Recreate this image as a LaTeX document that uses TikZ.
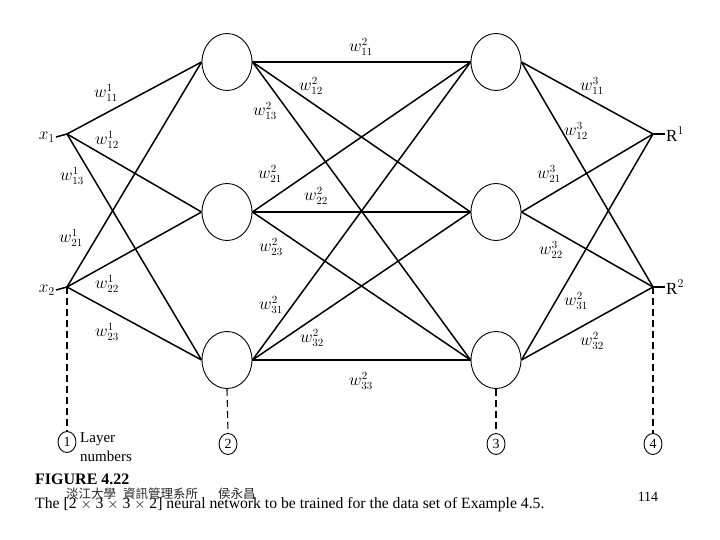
\documentclass[tikz,border=0pt]{standalone}
\usepackage{fontspec}
\setmainfont{Liberation Serif}
\newfontfamily\cjkfont{Noto Sans CJK TC}
\usetikzlibrary{shapes.geometric,positioning}

\begin{document}
\begin{tikzpicture}[
    x=1pt, y=-1pt,
    neuron/.style={draw, ellipse, minimum width=50pt, minimum height=57pt, inner sep=0pt, line width=0.9pt},
    layernum/.style={draw, ellipse, minimum width=18pt, minimum height=21pt, inner sep=0pt, line width=0.9pt, font=\fontsize{14}{14}\selectfont},
    weight/.style={font=\fontsize{16}{16}\selectfont, inner sep=1pt},
    io/.style={font=\fontsize{17}{17}\selectfont, inner sep=1pt},
    link/.style={line width=1.5pt},
    boldlink/.style={line width=2.2pt},
    guide/.style={dashed, dash pattern=on 7pt off 4pt, line width=1.1pt}
]
\useasboundingbox (0,0) rectangle (720,540);

% inputs and outputs
\coordinate (x1) at (67,134);
\coordinate (x2) at (67,287);
\coordinate (r1) at (653,134);
\coordinate (r2) at (653,287);
\node[io, anchor=east] (x1lab) at (56,137) {$x_1$};
\node[io, anchor=east] (x2lab) at (56,290) {$x_2$};
\node[io, anchor=west] (r1lab) at (665,134) {R$^1$};
\node[io, anchor=west] (r2lab) at (665,287) {R$^2$};
\draw[link] (x1lab.east) -- (x1);
\draw[link] (x2lab.east) -- (x2);
\draw[link] (r1) -- (r1lab.west);
\draw[link] (r2) -- (r2lab.west);

% hidden layers
\node[neuron] (h1) at (227,62) {};
\node[neuron] (h2) at (227,212) {};
\node[neuron] (h3) at (227,360) {};
\node[neuron] (g1) at (496,62) {};
\node[neuron] (g2) at (496,212) {};
\node[neuron] (g3) at (496,360) {};

% layer 1 -> 2
\draw[link] (x1) -- (h1.west);
\draw[link] (x1) -- (h2.west);
\draw[link] (x1) -- (h3.west);
\draw[link] (x2) -- (h1.west);
\draw[link] (x2) -- (h2.west);
\draw[link] (x2) -- (h3.west);

% layer 2 -> 3
\draw[boldlink] (h1.east) -- (g1.west);
\draw[link] (h1.east) -- (g2.west);
\draw[link] (h1.east) -- (g3.west);
\draw[link] (h2.east) -- (g1.west);
\draw[boldlink] (h2.east) -- (g2.west);
\draw[link] (h2.east) -- (g3.west);
\draw[link] (h3.east) -- (g1.west);
\draw[link] (h3.east) -- (g2.west);
\draw[boldlink] (h3.east) -- (g3.west);

% layer 3 -> 4
\draw[link] (g1.east) -- (r1);
\draw[link] (g1.east) -- (r2);
\draw[link] (g2.east) -- (r1);
\draw[link] (g2.east) -- (r2);
\draw[link] (g3.east) -- (r1);
\draw[link] (g3.east) -- (r2);

% weights
\node[weight] (w111) at (106,93) {$w^{1}_{11}$};
\node[weight] (w112) at (107,140) {$w^{1}_{12}$};
\node[weight] (w113) at (72,176) {$w^{1}_{13}$};
\node[weight] (w121) at (71,238) {$w^{1}_{21}$};
\node[weight] (w122) at (107,284) {$w^{1}_{22}$};
\node[weight] (w123) at (107,332) {$w^{1}_{23}$};

\node[weight] (w211) at (361,47) {$w^{2}_{11}$};
\node[weight] (w212) at (311,86) {$w^{2}_{12}$};
\node[weight] (w213) at (265,111) {$w^{2}_{13}$};
\node[weight] (w221) at (270,174) {$w^{2}_{21}$};
\node[weight] (w222) at (316,196) {$w^{2}_{22}$};
\node[weight] (w223) at (271,247) {$w^{2}_{23}$};
\node[weight] (w231) at (271,305) {$w^{2}_{31}$};
\node[weight] (w232) at (312,338) {$w^{2}_{32}$};
\node[weight] (w233) at (361,381) {$w^{2}_{33}$};

\node[weight] (w311) at (592,86) {$w^{3}_{11}$};
\node[weight] (w312) at (576,131) {$w^{3}_{12}$};
\node[weight] (w321) at (549,174) {$w^{3}_{21}$};
\node[weight] (w322) at (551,250) {$w^{3}_{22}$};
\node[weight] (w331) at (576,301) {$w^{2}_{31}$};
\node[weight] (w332) at (592,341) {$w^{2}_{32}$};

% layer numbers
\node[layernum] (l1) at (67,442) {1};
\node[layernum] (l2) at (228,444) {2};
\node[layernum] (l3) at (496,444) {3};
\node[layernum] (l4) at (653,444) {4};
\draw[guide] (x2) -- (l1.north);
\draw[guide] (h3.south) -- (l2.north);
\draw[guide] (g3.south) -- (l3.north);
\draw[guide] (r2) -- (l4.north);
\node[anchor=west, align=left, font=\fontsize{15}{19}\selectfont, inner sep=0pt] (lnum) at (80,447) {Layer\\numbers};

% caption
\node[anchor=west, inner sep=0pt, font=\fontsize{16}{16}\selectfont\bfseries] (fig) at (35,479) {FIGURE 4.22};
\node[anchor=west, inner sep=0pt, font=\fontsize{15.7}{16}\selectfont] (cap) at (35,505) {The [2 $\times$ 3 $\times$ 3 $\times$ 2] neural network to be trained for the data set of Example 4.5.};
\node[anchor=west, inner sep=0pt, font=\fontsize{12.5}{13}\cjkfont, text=black!85] (mark) at (66,494) {淡江大學\hspace{7pt}資訊管理系所\hspace{20pt}侯永昌};
\node[inner sep=0pt, font=\fontsize{14}{14}\selectfont] (page) at (648,497) {114};

\end{tikzpicture}
\end{document}
